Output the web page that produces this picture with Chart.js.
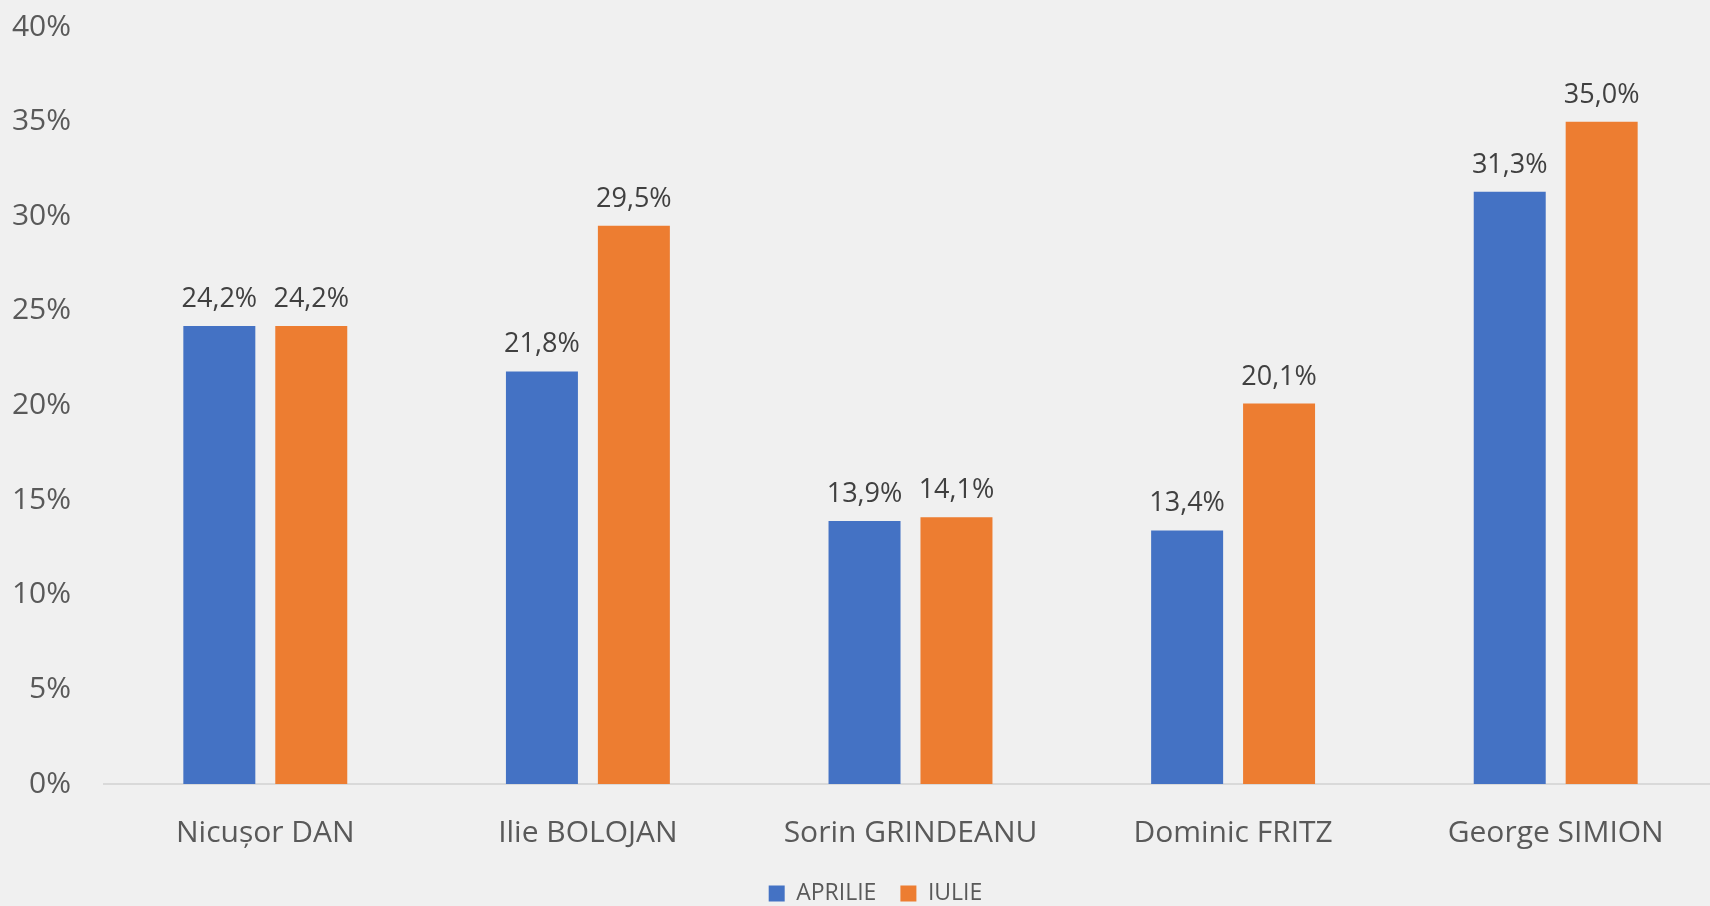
<!DOCTYPE html>
<html>
<head>
<meta charset="utf-8">
<script src="https://cdn.jsdelivr.net/npm/chart.js@4.4.0/dist/chart.umd.min.js"></script>
<style>
  html, body { margin: 0; padding: 0; background: #f0f0f0; overflow: hidden; }
  #wrap { position: relative; width: 1720px; height: 915px; }
</style>
</head>
<body>
<div id="wrap"><canvas id="sondaj"></canvas></div>
<script>
// candidati si procente (aprilie / iulie)
const candidati = ["Nicușor DAN", "Ilie BOLOJAN", "Sorin GRINDEANU", "Dominic FRITZ", "George SIMION"];
const aprilie = [24.2, 21.8, 13.9, 13.4, 31.3];
const iulie = [24.2, 29.5, 14.1, 20.1, 35.0];
const yTicks = [0, 5, 10, 15, 20, 25, 30, 35, 40];

const FONT = '"Open Sans", "Noto Sans", sans-serif';

// etichete cu valori deasupra barelor (format 24,2%)
const valueLabels = {
  id: "valueLabels",
  afterDatasetsDraw(chart) {
    const ctx = chart.ctx;
    ctx.save();
    ctx.font = "27px " + FONT;
    ctx.fillStyle = "#404040";
    ctx.textAlign = "center";
    ctx.textBaseline = "alphabetic";
    chart.data.datasets.forEach((ds, i) => {
      chart.getDatasetMeta(i).data.forEach((bar, j) => {
        ctx.fillText(ds.data[j].toFixed(1).replace(".", ",") + "%", bar.x, bar.y - 19);
      });
    });
    ctx.restore();
  },
};

// legenda putin spre dreapta, ca in original
const legendNudge = {
  id: "legendNudge",
  afterLayout(chart) {
    chart.legend.left += 17;
    chart.legend.right += 17;
  },
};

new Chart(document.getElementById("sondaj"), {
  type: "bar",
  data: {
    labels: candidati,
    datasets: [
      {
        label: "APRILIE",
        data: aprilie,
        backgroundColor: "#4472C4",
        borderColor: "#4472C4",
        categoryPercentage: 0.57,
        barPercentage: 0.783,
      },
      {
        label: "IULIE",
        data: iulie,
        backgroundColor: "#ED7D31",
        borderColor: "#ED7D31",
        categoryPercentage: 0.57,
        barPercentage: 0.783,
      },
    ],
  },
  options: {
    responsive: true,
    maintainAspectRatio: false,
    animation: false,
    layout: { padding: { top: 27, left: 0, right: 3, bottom: 0 } },
    plugins: {
      tooltip: { enabled: false },
      legend: {
        position: "bottom",
        labels: {
          boxWidth: 16,
          boxHeight: 16,
          padding: 24,
          color: "#595959",
          font: { family: FONT, size: 23 },
        },
      },
    },
    scales: {
      x: {
        grid: { display: false, drawTicks: false },
        border: { display: true, color: "#d9d9d9", width: 2 },
        ticks: { color: "#595959", padding: 31, font: { family: FONT, size: 30 } },
        afterFit(scale) { scale.height = 74; },
      },
      y: {
        min: 0,
        max: 40,
        grid: { display: false, drawTicks: false },
        border: { display: false },
        afterFit(scale) {
          scale.width = 104;
          scale.paddingTop = 18;
          scale.paddingBottom = 18;
        },
        afterBuildTicks(scale) { scale.ticks = yTicks.map((v) => ({ value: v })); },
        ticks: {
          color: "#595959",
          padding: 33,
          font: { family: FONT, size: 30 },
          callback: (v) => v + "%",
        },
      },
    },
  },
  plugins: [valueLabels, legendNudge],
});
</script>
</body>
</html>
